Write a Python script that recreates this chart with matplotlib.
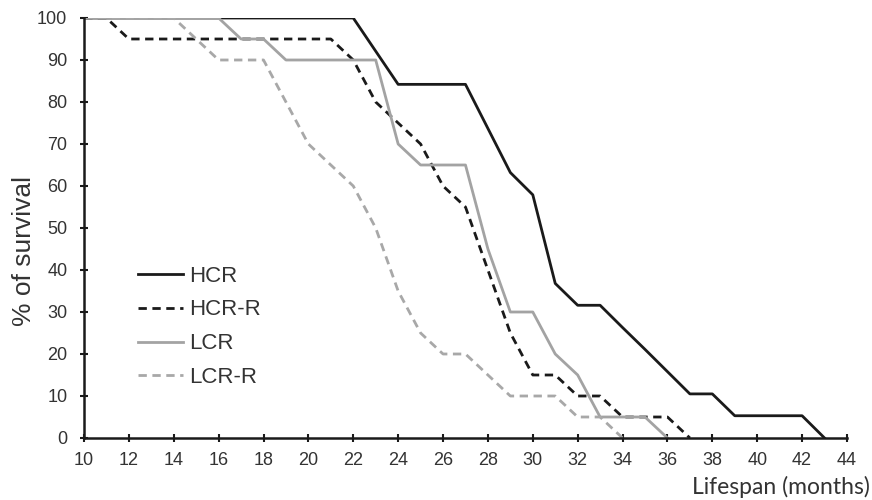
import numpy as np
import matplotlib.pyplot as plt

plt.rcParams['font.family'] = ['Liberation Sans', 'DejaVu Sans']

hcr_x = [10, 22, 24, 27, 28, 29, 30, 31, 32, 33, 34, 35, 36, 37, 38, 39, 42, 43]
hcr_y = [100, 100, 84.2, 84.2, 73.7, 63.2, 57.9, 36.8, 31.6, 31.6, 26.3, 21.1, 15.8, 10.5, 10.5, 5.3, 5.3, 0]

hcrr_x = [10, 11, 12, 21, 22, 23, 24, 25, 26, 27, 28, 29, 30, 31, 32, 33, 34, 36, 37]
hcrr_y = [100, 100, 95, 95, 90, 80, 75, 70, 60, 55, 40, 25, 15, 15, 10, 10, 5, 5, 0]

lcr_x = [10, 16, 17, 18, 19, 23, 24, 25, 27, 28, 29, 30, 31, 32, 33, 35, 36]
lcr_y = [100, 100, 95, 95, 90, 90, 70, 65, 65, 45, 30, 30, 20, 15, 5, 5, 0]

lcrr_x = [10, 14, 15, 16, 18, 19, 20, 21, 22, 23, 24, 25, 26, 27, 28, 29, 31, 32, 33, 34]
lcrr_y = [100, 100, 95, 90, 90, 80, 70, 65, 60, 50, 35, 25, 20, 20, 15, 10, 10, 5, 5, 0]

fig = plt.figure(figsize=(8.72, 5), dpi=100)
ax = fig.add_axes([0.0963, 0.124, 0.875, 0.84])

ax.plot(hcr_x, hcr_y, color='#1a1a1a', lw=2.0, label='HCR')
ax.plot(hcrr_x, hcrr_y, color='#1a1a1a', lw=2.0, dashes=(3, 2), label='HCR-R')
ax.plot(lcr_x, lcr_y, color='#a3a3a3', lw=2.0, label='LCR')
ax.plot(lcrr_x, lcrr_y, color='#a8a8a8', lw=2.0, dashes=(3, 2), label='LCR-R')

ax.set_xlim(10, 44)
ax.set_ylim(0, 100)
ax.set_xticks(np.arange(10, 45, 2))
ax.set_yticks(np.arange(0, 101, 10))
for s in ['top', 'right']:
    ax.spines[s].set_visible(False)
for s in ['left', 'bottom']:
    ax.spines[s].set_linewidth(1.8)
    ax.spines[s].set_color('#1a1a1a')
ax.tick_params(direction='inout', length=6, width=1.5, color='#1a1a1a',
               labelsize=13, labelcolor='#333333')
ax.tick_params(axis='y', pad=9)
ax.tick_params(axis='x', pad=7)

fig.text(0.027, 0.498, '% of survival', rotation=90, ha='center', va='center',
         fontsize=19, color='#333333')
fig.text(0.998, 0.027, 'Lifespan (months)', ha='right', va='center',
         fontsize=16.5, color='#333333', family=['Lato', 'DejaVu Sans'])

ax.legend(loc='lower left', bbox_to_anchor=(0.045, 0.071), frameon=False,
          fontsize=16, handlelength=2.0, handletextpad=0.3, labelspacing=0.58,
          labelcolor='#333333')

fig.savefig('out.png', dpi=100)
